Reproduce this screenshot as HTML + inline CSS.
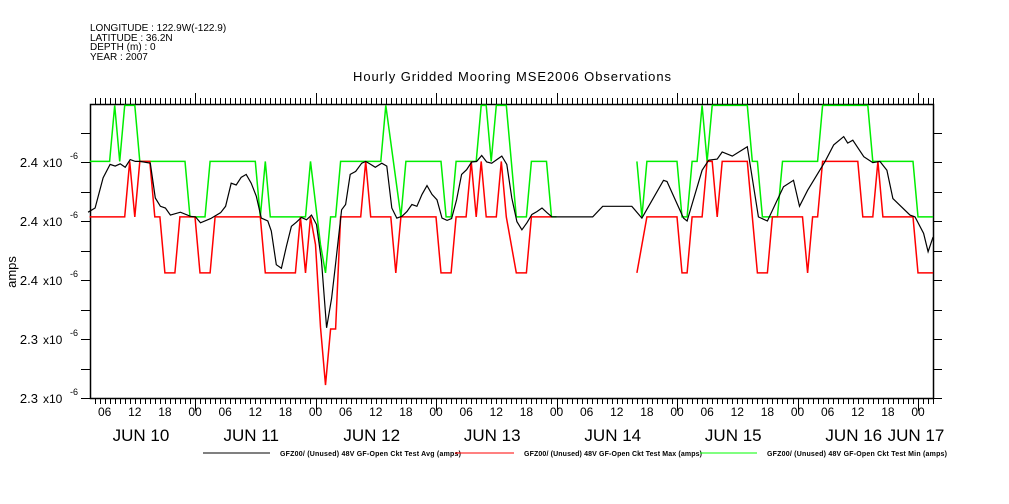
<!DOCTYPE html>
<html><head><meta charset="utf-8"><style>
html,body{margin:0;padding:0;background:#fff;}
svg{display:block;font-family:"Liberation Sans",sans-serif;}
</style></head><body>
<svg id="chart" width="1009" height="504" viewBox="0 0 1009 504" xmlns="http://www.w3.org/2000/svg">
<rect width="1009" height="504" fill="#fff"/>
<g font-size="10" fill="#000">
<text x="90" y="31">LONGITUDE : 122.9W(-122.9)</text>
<text x="90" y="41">LATITUDE : 36.2N</text>
<text x="90" y="50">DEPTH (m) : 0</text>
<text x="90" y="60">YEAR : 2007</text>
</g>
<text x="512" y="81" text-anchor="middle" font-size="13" textLength="318">Hourly Gridded Mooring MSE2006 Observations</text>
<text transform="translate(16,272) rotate(-90)" text-anchor="middle" font-size="13">amps</text>
<g id="axes"></g>
<g id="series"></g>
<g id="legend" font-size="7" font-weight="bold">
<line x1="203" y1="453" x2="270" y2="453" stroke="#000"/>
<text x="280" y="456" textLength="181">GFZ00/ (Unused) 48V GF-Open Ckt Test Avg (amps)</text>
<line x1="455" y1="453" x2="514" y2="453" stroke="#f00"/>
<text x="524" y="456" textLength="178">GFZ00/ (Unused) 48V GF-Open Ckt Test Max (amps)</text>
<line x1="700" y1="453" x2="757" y2="453" stroke="#0f0"/>
<text x="767" y="456" textLength="180">GFZ00/ (Unused) 48V GF-Open Ckt Test Min (amps)</text>
</g>
</svg>
<script>
const yTickValues=[0,1,2,3,4];
const yTickLabels=["2.3","2.3","2.4","2.4","2.4"];
const dayLabels=["JUN 10","JUN 11","JUN 12","JUN 13","JUN 14","JUN 15","JUN 16","JUN 17"];
const hourLabels=["00","06","12","18"];
const avgHours=[2.7,4.1,5.7,7.1,8.1,9.1,10.1,11.1,12.1,13.1,15.1,16.1,17.1,18.1,19.1,21.1,23.1,24.1,25.1,27.1,29.1,30.1,31.2,32.2,33.2,34.2,35.2,36.2,37.2,38.5,39.2,40.2,41.2,42.2,43.2,44.2,45.2,46.2,47.2,48.2,49.2,50.2,51.2,51.9,53.2,54,54.9,56,57.2,58,59,59.9,61.2,62.2,63.2,64.2,65.2,66.2,67.2,68.2,69.2,70.2,71.2,72.2,73.2,74.2,75.1,76.1,77.1,78.1,79.1,80.1,81.1,82.1,83.1,84.1,85.1,86.1,87.1,88.1,89.1,90.1,91.1,92.1,93.1,94.1,95.1,103.2,105.2,111,113,117.3,118,121.3,122,125,126.3,128,129,131,134,136.2,138,141.2,143.2,144.4,146,149.5,151.2,153.2,154,155,157.2,159,160.4,161.8,163,166.4,167.4,169.1,170,171];
const avgValues=[3.15,3.22,3.73,3.96,3.93,3.97,3.91,4.04,4.01,4.01,3.98,3.39,3.25,3.22,3.10,3.15,3.08,3.07,2.97,3.04,3.14,3.25,3.64,3.61,3.74,3.79,3.64,3.42,3.05,3.00,2.83,2.26,2.20,2.57,2.91,2.98,3.06,3.02,3.10,2.94,2.32,1.19,1.69,2.20,3.19,3.28,3.79,3.84,3.98,4.01,3.96,3.91,3.98,3.93,3.22,3.05,3.08,3.16,3.28,3.25,3.45,3.60,3.45,3.36,3.05,3.01,3.04,3.36,3.79,3.87,4.00,4.01,4.11,4.00,3.98,4.04,4.10,3.96,3.39,2.99,2.85,2.97,3.11,3.16,3.22,3.14,3.07,3.07,3.25,3.25,3.05,3.69,3.67,3.05,3.00,3.86,4.03,4.05,4.17,4.10,4.26,3.07,3.00,3.58,3.69,3.25,3.52,4.01,4.29,4.43,4.32,4.37,4.09,3.99,4.01,3.86,3.38,3.10,3.07,2.79,2.48,2.73];
const maxHours=[3,7,8,9,10,12,13,22,23,26,27,36,37,38,39,46,47,48,49,50,51,52,53,61,62,65,66,73,74,75,76,80,81,82,83,84,86,88,90,91,94,95,96,null,112,113,114,120,121,122,123,124,125,126,127,134,135,136,137,140,141,148,149,158,159,167,168,171];
const maxValues=[4.01,4.01,4.96,4.01,4.96,4.96,4.01,4.01,3.07,3.07,4.01,4.01,3.07,4.01,3.07,3.07,4.01,3.3,2.6,2.12,3.07,3.07,4.01,4.01,4.96,3.07,4.01,4.01,3.07,3.07,4.01,4.01,4.96,4.96,4.01,4.96,4.96,3.07,3.07,4.01,4.01,3.07,3.07,null,4.01,3.07,4.01,4.01,3.07,3.07,4.01,4.01,4.96,4.01,4.96,4.96,4.01,4.01,3.07,3.07,4.01,4.01,4.96,4.96,4.01,4.01,3.07,3.07];
const minHours=[3,10,11,12,13,15,16,17,18,20,21,24,25,27,28,37,38,44,45,46,47,48,49,50,51,52,53,57,58,59,63,64,65,72,73,75,76,78,79,80,81,82,84,85,86,88,90,91,95,null,112,114,120,121,122,123,125,126,127,128,129,134,136,138,139,145,146,147,148,149,156,157,159,160,161,167,168,171];
const minValues=[3.07,3.07,4.01,3.07,4.01,4.01,3.07,3.07,2.12,2.12,3.07,3.07,2.12,2.12,3.07,3.07,2.12,2.12,3.07,2.12,3.07,2.6,1.2,0.22,1.17,1.17,3.07,3.07,4.01,3.07,3.07,2.12,3.07,3.07,2.12,2.12,3.07,3.07,4.01,3.07,4.01,3.07,3.07,4.01,3.07,2.12,2.12,3.07,3.07,null,2.12,3.07,3.07,2.12,2.12,3.07,3.07,4.01,4.01,3.07,4.01,4.01,2.12,2.12,3.07,3.07,2.12,3.07,3.07,4.01,4.01,3.07,3.07,4.01,3.07,3.07,2.12,2.12];

const NS="http://www.w3.org/2000/svg";
const L=90,R=933,T=104,B=398;
const x=h=>74.5+5.021*h;
const y=v=>398-59*v;
const axes=document.getElementById('axes');
const ser=document.getElementById('series');
function mk(tag,attrs,parent){const e=document.createElementNS(NS,tag);for(const k in attrs)e.setAttribute(k,attrs[k]);parent.appendChild(e);return e;}
let d='';
for(let h=Math.ceil((L-74.5)/5.021);x(h)<=R+0.5;h++){
  const px=Math.round(x(h))+0.5;const major=h%24===0;
  d+=`M${px},${T}v${major?-11:-6}M${px},${B}v${major?13:6}`;
}
for(let v=0;v<=4.5;v+=0.5){
  const py=Math.round(y(v))+0.5;
  d+=`M${L},${py}h-9M${R},${py}h9`;
}
const tk=mk('path',{d:d,stroke:'#000','stroke-width':1,fill:'none'},axes);


const fr=mk('rect',{x:L+0.5,y:T+0.5,width:R-L,height:B-T,fill:'none',stroke:'#000','stroke-width':1.5},axes);


yTickValues.forEach((v,i)=>{
  const t=mk('text',{x:38,y:y(v)+5,'text-anchor':'end','font-size':13},axes);
  t.textContent=yTickLabels[i];
  
  
  const t2=mk('text',{x:43,y:y(v)+5,'font-size':12},axes);
  t2.textContent='x10';
  
  
  const t3=mk('text',{x:70,y:y(v)-3,'font-size':9},axes);
  t3.textContent='-6';
  
  
});
for(let h=6;h<=168;h+=6){
  const t=mk('text',{x:x(h),y:416,'text-anchor':'middle','font-size':12},axes);
  t.textContent=hourLabels[(h/6)%4];
  
  
}
dayLabels.forEach((lab,i)=>{
  let cx=x(24*i+12)-4;
  if(i===0)cx=141; if(i===7)cx=916;
  const t=mk('text',{x:cx,y:441,'text-anchor':'middle','font-size':17},axes);
  t.textContent=lab;
  
  
});
function pathFor(hs,vs){
  let s='',pen=false;
  for(let i=0;i<hs.length;i++){
    if(hs[i]===null||vs[i]===null){pen=false;continue;}
    s+=(pen?'L':'M')+x(hs[i]).toFixed(1)+','+y(vs[i]).toFixed(1);pen=true;
  }
  return s;
}
const pMax=mk('path',{d:pathFor(maxHours,maxValues),stroke:'#00ee00','stroke-width':1.5,fill:'none'},ser);


const pMin=mk('path',{d:pathFor(minHours,minValues),stroke:'#ff0000','stroke-width':1.5,fill:'none'},ser);


const pAvg=mk('path',{d:pathFor(avgHours,avgValues),stroke:'#000','stroke-width':1.2,fill:'none'},ser);


</script>
</body></html>
